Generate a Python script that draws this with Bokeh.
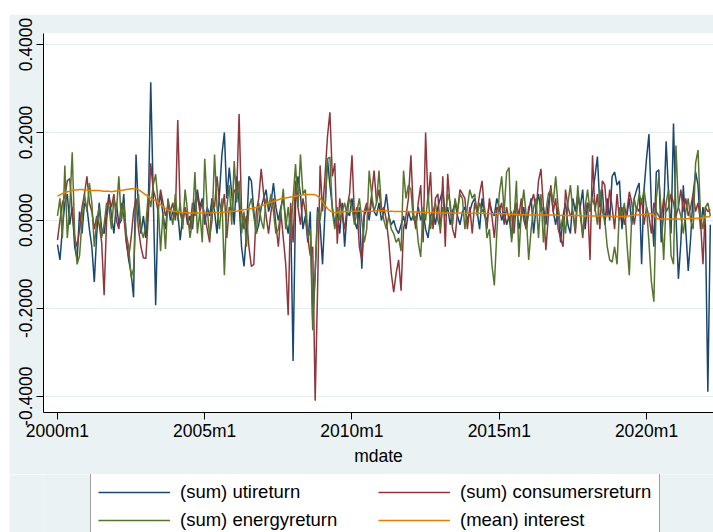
from bokeh.plotting import figure
from bokeh.layouts import column
from bokeh.models import (ColumnDataSource, FixedTicker, NumeralTickFormatter,
                          Legend, LegendItem, Range1d)
from bokeh.embed import file_html
from bokeh.resources import INLINE

FONT = "Liberation Sans"
GRAPH_BG = "#EAF2F3"

# x-axis tick labels (Stata monthly date format)
x_tick_labels = ["2000m1", "2005m1", "2010m1", "2015m1", "2020m1"]
y_ticks = [-0.4, -0.2, 0.0, 0.2, 0.4]

series_labels = ["(sum) utireturn", "(sum) consumersreturn",
                 "(sum) energyreturn", "(mean) interest"]

# monthly values, 2000m1 .. 2022m3 (one row per year)
uti = [
    -0.055, -0.09, -0.02, 0.04, 0.06, -0.01, 0.03, -0.06, -0.09, 0.02, -0.03, 0.04,
    0.03, -0.02, -0.06, -0.14, -0.03, 0.04, -0.02, -0.03, 0.02, 0.06, 0.01, -0.03,
    0.04, -0.01, 0.00, 0.06, -0.04, -0.09, -0.12, -0.175, 0.15, 0.02, -0.03, 0.01,
    -0.04, 0.03, 0.314, 0.06, -0.193, 0.03, 0.06, 0.01, -0.02, 0.04, 0.00, 0.02,
    0.01, 0.02, -0.045, 0.01, 0.03, -0.01, 0.01, -0.02, 0.04, 0.07, 0.03, 0.05,
    -0.01, 0.03, 0.01, 0.05, 0.02, -0.03, 0.06, 0.15, 0.20, 0.05, 0.12, 0.06,
    -0.01, 0.10, 0.04, -0.06, -0.105, -0.03, 0.10, 0.09, 0.02, -0.03, -0.01, 0.03,
    0.05, 0.07, 0.02, 0.04, 0.085, 0.03, 0.00, 0.03, 0.05, 0.00, -0.03, 0.02,
    -0.32, 0.04, 0.10, 0.06, -0.02, 0.01, -0.05, 0.02, -0.23, -0.12, 0.03, -0.01,
    -0.10, 0.02, 0.14, 0.08, 0.03, -0.01, 0.02, -0.03, 0.04, -0.06, 0.02, 0.01,
    0.05, 0.00, -0.02, 0.03, -0.11, 0.01, 0.03, 0.00, 0.05, 0.02, 0.01, 0.04,
    0.00, 0.02, 0.06, 0.01, -0.01, 0.00, -0.02, -0.03, -0.01, 0.01, -0.02, 0.02,
    0.00, 0.01, -0.01, 0.03, 0.00, 0.02, -0.02, -0.04, 0.01, 0.02, -0.01, 0.03,
    0.05, 0.07, 0.01, 0.03, -0.01, 0.02, 0.04, 0.01, -0.01, 0.02, 0.03, 0.00,
    0.02, 0.04, 0.05, 0.02, -0.02, 0.05, 0.01, 0.00, 0.04, 0.02, 0.01, 0.05,
    0.03, 0.00, 0.02, -0.01, 0.01, -0.04, 0.02, 0.04, -0.02, 0.01, 0.03, -0.02,
    0.02, 0.05, -0.03, 0.03, 0.06, 0.02, 0.03, -0.01, 0.04, 0.07, 0.02, -0.01,
    0.03, -0.05, 0.01, 0.04, -0.01, -0.03, 0.05, 0.02, 0.06, 0.03, 0.07, -0.02,
    0.04, 0.02, 0.06, 0.10, 0.145, 0.03, 0.07, -0.01, 0.05, 0.00, 0.10, 0.11,
    0.08, 0.09, -0.02, 0.03, 0.01, 0.05, -0.01, 0.05, 0.07, 0.085, -0.10, 0.07,
    0.14, 0.196, 0.03, -0.06, 0.11, 0.115, -0.05, 0.02, 0.18, 0.06, -0.03, 0.22,
    0.01, -0.133, -0.05, 0.08, -0.02, -0.115, -0.04, 0.06, 0.11, 0.08, -0.02, 0.03,
    -0.01, -0.39, -0.01,
]

consumers = [
    -0.045, 0.00, 0.04, 0.055, 0.09, 0.095, 0.02, -0.04, -0.06, -0.02, 0.03, 0.06,
    0.10, 0.04, 0.02, -0.02, 0.01, -0.01, -0.05, -0.17, 0.00, 0.05, 0.03, 0.06,
    0.00, -0.02, 0.04, 0.01, -0.05, -0.085, -0.04, 0.02, 0.05, -0.02, -0.06, -0.085,
    -0.087, 0.01, 0.13, 0.07, 0.05, 0.02, 0.07, 0.04, 0.01, 0.03, 0.02, 0.04,
    0.00, 0.228, 0.02, -0.01, 0.03, 0.00, -0.02, 0.04, 0.01, 0.06, 0.02, 0.04,
    0.01, -0.02, -0.05, 0.05, 0.03, 0.10, 0.04, 0.02, 0.06, -0.04, 0.03, 0.02,
    0.07, 0.06, 0.242, 0.02, -0.02, 0.01, -0.06, -0.105, -0.10, 0.02, 0.05, 0.117,
    0.06, 0.01, -0.03, 0.02, 0.05, -0.01, -0.06, 0.02, -0.04, -0.10, -0.216, 0.04,
    -0.05, 0.09, 0.03, -0.01, 0.05, 0.02, -0.04, -0.08, -0.06, -0.41, -0.15, 0.125,
    0.02, 0.10, 0.19, 0.246, 0.10, 0.13, -0.053, 0.05, 0.01, -0.02, 0.03, 0.06,
    0.148, 0.01, 0.03, -0.06, -0.09, 0.02, 0.04, 0.01, 0.06, 0.113, 0.04, 0.07,
    0.02, 0.03, 0.00, -0.05, -0.12, -0.163, -0.12, -0.09, -0.16, -0.02, 0.01, 0.05,
    0.148, 0.02, -0.02, 0.04, 0.08, -0.05, 0.20, 0.04, 0.11, -0.02, 0.05, 0.06,
    -0.03, 0.10, -0.06, 0.106, 0.03, -0.02, -0.04, 0.02, 0.07, 0.06, 0.05, -0.02,
    0.03, -0.03, 0.04, 0.02, 0.06, 0.09, 0.02, -0.02, 0.05, 0.01, -0.04, 0.03,
    0.02, 0.04, -0.01, 0.03, 0.00, 0.02, -0.03, 0.04, 0.01, 0.05, 0.00, -0.02,
    0.03, 0.04, 0.06, 0.02, 0.09, 0.117, 0.03, -0.068, 0.01, 0.08, 0.02, 0.05,
    -0.02, -0.04, -0.06, 0.07, 0.03, 0.01, 0.02, -0.03, 0.05, 0.03, -0.04, 0.02,
    0.04, -0.09, 0.148, 0.02, 0.06, -0.02, 0.09, 0.08, 0.01, 0.07, 0.03, -0.02,
    0.06, 0.00, 0.03, -0.01, 0.02, 0.065, 0.04, -0.01, 0.03, 0.02, 0.05, -0.01,
    0.03, 0.01, -0.03, 0.04, 0.02, 0.01, 0.00, 0.05, 0.02, 0.03, 0.06, 0.04,
    0.01, 0.03, 0.07, 0.02, 0.05, 0.01, 0.03, 0.06, 0.02, 0.04, 0.00, -0.10,
    0.03, 0.02, 0.025,
]

energy = [
    0.01, 0.05, -0.04, 0.125, -0.04, 0.03, 0.155, -0.03, -0.10, -0.08, 0.00, 0.06,
    0.02, 0.085, 0.04, -0.06, 0.00, 0.03, -0.04, -0.01, 0.04, 0.03, -0.02, 0.05,
    0.02, 0.10, 0.00, 0.04, -0.03, -0.06, -0.13, -0.11, 0.02, 0.06, -0.02, -0.04,
    -0.01, 0.06, 0.03, 0.08, 0.105, 0.04, -0.07, 0.02, -0.065, 0.05, 0.02, -0.01,
    0.06, 0.00, 0.04, -0.02, 0.07, 0.02, -0.04, 0.00, 0.11, -0.03, 0.02, -0.05,
    0.14, 0.03, -0.04, 0.00, 0.15, 0.03, -0.02, 0.05, -0.125, 0.03, 0.08, -0.01,
    0.135, 0.04, 0.09, -0.03, 0.02, -0.06, 0.03, 0.05, 0.01, -0.03, 0.04, 0.00,
    -0.02, 0.05, 0.03, 0.06, 0.02, -0.03, -0.02, 0.02, 0.072, -0.02, 0.03, -0.03,
    0.05, 0.128, 0.03, 0.15, 0.06, 0.07, -0.04, -0.02, -0.25, -0.12, 0.02, 0.00,
    0.05, 0.03, 0.14, 0.144, 0.02, -0.02, 0.03, 0.00, 0.02, 0.04, 0.01, 0.05,
    0.03, -0.01, 0.02, 0.05, 0.00, -0.05, -0.02, 0.113, 0.06, 0.02, 0.04, 0.113,
    0.03, 0.00, -0.02, 0.01, -0.02, -0.03, -0.05, -0.04, -0.07, 0.113, 0.05, 0.08,
    0.07, 0.00, 0.01, -0.05, -0.083, 0.03, 0.00, 0.06, -0.02, 0.02, 0.04, 0.00,
    -0.02, 0.03, 0.01, 0.06, 0.04, -0.01, 0.05, 0.02, 0.06, 0.05, -0.02, 0.03,
    0.07, 0.05, 0.06, 0.01, 0.04, 0.02, 0.03, -0.04, -0.02, -0.10, -0.148, -0.03,
    0.06, 0.10, 0.02, 0.11, 0.12, -0.05, 0.00, 0.09, -0.083, 0.02, 0.07, 0.01,
    -0.09, -0.02, 0.03, 0.05, -0.04, 0.06, -0.05, 0.02, 0.06, 0.07, 0.04, 0.10,
    0.03, -0.02, 0.01, -0.03, 0.04, 0.08, 0.02, -0.02, 0.08, 0.01, -0.03, 0.03,
    0.07, 0.02, 0.05, 0.03, -0.01, 0.07, 0.02, 0.00, -0.06, -0.09, -0.095, -0.06,
    -0.10, 0.03, 0.01, 0.04, -0.05, -0.125, 0.01, 0.05, 0.02, 0.06, 0.04, 0.07,
    0.03, -0.05, -0.14, -0.185, 0.05, 0.10, 0.02, -0.09, 0.04, 0.07, -0.08, -0.10,
    0.17, 0.03, 0.01, -0.03, 0.02, 0.05, 0.00, -0.02, 0.13, 0.16, 0.01, -0.02,
    0.03, 0.04, 0.01,
]

interest = [
    0.055, 0.058, 0.061, 0.063, 0.065, 0.066, 0.068, 0.069, 0.069, 0.070, 0.070, 0.069,
    0.069, 0.068, 0.068, 0.068, 0.068, 0.068, 0.067, 0.066, 0.066, 0.066, 0.065, 0.066,
    0.067, 0.068, 0.068, 0.069, 0.070, 0.071, 0.072, 0.072, 0.072, 0.070, 0.066, 0.062,
    0.058, 0.054, 0.050, 0.047, 0.045, 0.041, 0.036, 0.031, 0.027, 0.024, 0.022, 0.021,
    0.020, 0.019, 0.019, 0.018, 0.018, 0.017, 0.017, 0.017, 0.017, 0.017, 0.017, 0.017,
    0.017, 0.017, 0.017, 0.017, 0.018, 0.018, 0.018, 0.018, 0.019, 0.019, 0.020, 0.020,
    0.021, 0.021, 0.022, 0.023, 0.024, 0.025, 0.026, 0.027, 0.028, 0.029, 0.031, 0.033,
    0.035, 0.037, 0.039, 0.041, 0.043, 0.045, 0.047, 0.049, 0.050, 0.051, 0.052, 0.053,
    0.054, 0.055, 0.056, 0.057, 0.058, 0.058, 0.059, 0.059, 0.059, 0.058, 0.055, 0.050,
    0.042, 0.034, 0.027, 0.022, 0.019, 0.018, 0.018, 0.019, 0.019, 0.020, 0.020, 0.020,
    0.020, 0.021, 0.021, 0.021, 0.021, 0.021, 0.021, 0.021, 0.021, 0.021, 0.022, 0.022,
    0.022, 0.022, 0.022, 0.021, 0.021, 0.020, 0.020, 0.020, 0.020, 0.020, 0.020, 0.020,
    0.019, 0.019, 0.019, 0.019, 0.019, 0.018, 0.018, 0.018, 0.018, 0.018, 0.018, 0.018,
    0.017, 0.017, 0.017, 0.017, 0.017, 0.017, 0.017, 0.017, 0.017, 0.016, 0.016, 0.016,
    0.016, 0.016, 0.016, 0.016, 0.016, 0.016, 0.016, 0.015, 0.015, 0.015, 0.015, 0.015,
    0.015, 0.015, 0.015, 0.014, 0.014, 0.014, 0.014, 0.013, 0.013, 0.013, 0.013, 0.013,
    0.012, 0.012, 0.012, 0.012, 0.012, 0.012, 0.012, 0.012, 0.012, 0.012, 0.012, 0.012,
    0.011, 0.011, 0.011, 0.011, 0.011, 0.011, 0.011, 0.011, 0.011, 0.011, 0.010, 0.010,
    0.010, 0.010, 0.010, 0.010, 0.010, 0.010, 0.010, 0.010, 0.010, 0.010, 0.009, 0.009,
    0.009, 0.009, 0.009, 0.009, 0.010, 0.010, 0.011, 0.012, 0.012, 0.013, 0.013, 0.014,
    0.014, 0.015, 0.015, 0.012, 0.005, 0.003, 0.003, 0.003, 0.003, 0.003, 0.003, 0.003,
    0.003, 0.003, 0.003, 0.003, 0.003, 0.004, 0.004, 0.004, 0.004, 0.005, 0.005, 0.006,
    0.007, 0.008, 0.009,
]

# month index counted from 2000m1
months = list(range(len(uti)))


def month_index(label):
    year, month = label.split("m")
    return (int(year) - 2000) * 12 + int(month) - 1


x_ticks = [month_index(lab) for lab in x_tick_labels]

source = ColumnDataSource(dict(month=months, uti=uti, consumers=consumers,
                               energy=energy, interest=interest))

colors = ["#1A476F", "#90353B", "#55752F", "#E37E00"]
fields = ["uti", "consumers", "energy", "interest"]

# ---- main time-series panel ----
p = figure(width=704, height=460,
           x_range=Range1d(-5.7, 267.3), y_range=Range1d(-0.437, 0.425),
           output_backend="svg", toolbar_location=None,
           min_border_left=34, min_border_top=19, min_border_right=0,
           min_border_bottom=62, margin=(14, 0, 0, 9))

p.background_fill_color = "white"
p.border_fill_color = GRAPH_BG
p.outline_line_color = None

for field, color in zip(fields, colors):
    p.line("month", field, source=source, line_color=color, line_width=1.5)

p.xaxis.ticker = FixedTicker(ticks=x_ticks)
p.xaxis.major_label_overrides = {t: lab for t, lab in zip(x_ticks, x_tick_labels)}
p.xaxis.axis_label = "mdate"
p.xaxis.axis_label_text_font = FONT
p.xaxis.axis_label_text_font_size = "17.5px"
p.xaxis.axis_label_text_font_style = "normal"
p.xaxis.axis_label_text_color = "black"
p.xaxis.axis_label_standoff = 2
p.xaxis.major_label_standoff = 1

p.yaxis.ticker = FixedTicker(ticks=y_ticks)
p.yaxis.formatter = NumeralTickFormatter(format="0.0000")
p.yaxis.major_label_orientation = "vertical"
p.yaxis.major_label_standoff = 4

for ax in (p.xaxis[0], p.yaxis[0]):
    ax.axis_line_color = "black"
    ax.axis_line_width = 1
    ax.major_tick_line_color = "black"
    ax.major_tick_out = 7
    ax.major_tick_in = 0
    ax.minor_tick_line_color = None
    ax.major_label_text_font = FONT
    ax.major_label_text_font_size = "17.5px"
    ax.major_label_text_color = "black"

p.xgrid.visible = False
p.ygrid.ticker = FixedTicker(ticks=y_ticks)
p.ygrid.grid_line_color = "#E4ECEE"
p.ygrid.grid_line_width = 1

# ---- legend strip under the plot ----
leg = figure(width=704, height=58, output_backend="svg", toolbar_location=None,
             x_axis_type=None, y_axis_type=None,
             x_range=Range1d(0, 1), y_range=Range1d(0, 1),
             min_border_left=0, min_border_right=0, min_border_top=0,
             min_border_bottom=0, margin=(0, 0, 0, 9))
leg.background_fill_color = GRAPH_BG
leg.border_fill_color = GRAPH_BG
leg.outline_line_color = None
leg.grid.visible = False

# key renderers sit outside the visible range; only their legend swatches show
keys = [leg.line(x=[-3, -2], y=[-3, -3], line_color=color, line_width=1.5)
        for color in colors]

legend = Legend(
    items=[LegendItem(label=lab, renderers=[r]) for lab, r in zip(series_labels, keys)],
    location=(47, -7), orientation="horizontal", ncols=2,
    padding=7, spacing=6, margin=0,
    glyph_width=72, glyph_height=22, label_height=22, label_width=192,
    label_standoff=10,
    label_text_font=FONT, label_text_font_size="18.5px", label_text_color="black",
    border_line_color="#404040", border_line_width=1,
    background_fill_color="white", background_fill_alpha=1.0,
)
leg.add_layout(legend)

layout = column(p, leg, spacing=0)

open("out.html", "w").write(file_html(layout, INLINE))
